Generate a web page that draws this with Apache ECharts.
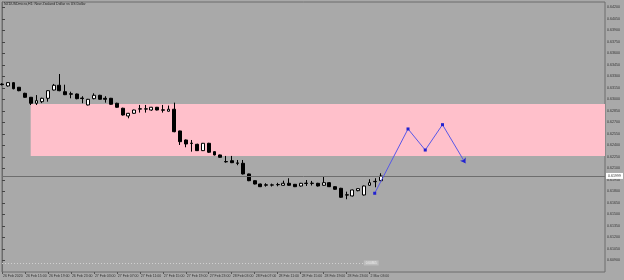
<!DOCTYPE html>
<html>
<head>
<meta charset="utf-8">
<script src="https://cdn.jsdelivr.net/npm/echarts@6/dist/echarts.min.js"></script>
<style>html,body{margin:0;padding:0;background:#a9a9a9;}#c{width:624px;height:280px;}</style>
</head>
<body>
<div id="c"></div>
<script>
// ---- data ----
const title = 'NZDUSDmicro,H1: New Zealand Dollar vs US Dollar';
const tickLabels = ['26 Feb 2020','26 Feb 15:00','26 Feb 19:00','26 Feb 23:00','27 Feb 03:00','27 Feb 07:00','27 Feb 11:00','27 Feb 15:00','27 Feb 19:00','27 Feb 23:00','28 Feb 03:00','28 Feb 07:00','28 Feb 11:00','28 Feb 15:00','28 Feb 19:00','28 Feb 23:00','2 Mar 03:00'];
const totalSlots = 106;
const yTicks = [0.64200,0.64050,0.63900,0.63750,0.63600,0.63450,0.63300,0.63150,0.63000,0.62850,0.62700,0.62550,0.62400,0.62250,0.62100,0.61950,0.61800,0.61650,0.61500,0.61350,0.61200,0.61050,0.60900];
const yMin = 0.60747, yMax = 0.64269;
// [open, close, low, high]
const opens  = [0.63198,0.63174,0.63217,0.63157,0.63078,0.63026,0.62948,0.62969,0.63013,0.63121,0.63183,0.63099,0.63072,0.63069,0.63016,0.62926,0.63008,0.63052,0.63013,0.63013,0.62948,0.62883,0.62782,0.62817,0.62876,0.62872,0.62860,0.62896,0.62862,0.62844,0.62870,0.62587,0.62469,0.62428,0.62413,0.62330,0.62426,0.62317,0.62274,0.62188,0.62199,0.62170,0.62165,0.62026,0.61938,0.61895,0.61884,0.61880,0.61886,0.61878,0.61904,0.61891,0.61869,0.61906,0.61902,0.61904,0.61878,0.61912,0.61860,0.61839,0.61754,0.61739,0.61808,0.61752,0.61878,0.61925,0.61938];
const closes = [0.63192,0.63217,0.63138,0.63112,0.63026,0.62948,0.62982,0.63013,0.63112,0.63183,0.63112,0.63060,0.63066,0.63008,0.63010,0.63000,0.63052,0.63000,0.63000,0.62935,0.62896,0.62795,0.62817,0.62860,0.62872,0.62876,0.62896,0.62860,0.62858,0.62870,0.62577,0.62447,0.62417,0.62424,0.62330,0.62426,0.62309,0.62274,0.62243,0.62184,0.62173,0.62165,0.62026,0.61938,0.61895,0.61860,0.61880,0.61884,0.61888,0.61904,0.61878,0.61860,0.61904,0.61902,0.61906,0.61869,0.61912,0.61860,0.61826,0.61722,0.61750,0.61817,0.61834,0.61869,0.61912,0.61929,0.61999];
const lows   = [0.63180,0.63165,0.63130,0.63105,0.63020,0.62926,0.62926,0.62950,0.62969,0.63115,0.63105,0.63055,0.63013,0.63000,0.62948,0.62920,0.63000,0.62995,0.62956,0.62930,0.62890,0.62788,0.62752,0.62810,0.62826,0.62826,0.62850,0.62855,0.62826,0.62840,0.62570,0.62404,0.62374,0.62317,0.62325,0.62325,0.62300,0.62268,0.62238,0.62173,0.62168,0.62140,0.62020,0.61932,0.61890,0.61855,0.61860,0.61862,0.61865,0.61872,0.61872,0.61855,0.61862,0.61869,0.61875,0.61862,0.61872,0.61855,0.61820,0.61715,0.61696,0.61733,0.61800,0.61745,0.61870,0.61852,0.61932];
const highs  = [0.63210,0.63225,0.63225,0.63160,0.63085,0.63030,0.63055,0.63020,0.63118,0.63200,0.63330,0.63190,0.63099,0.63075,0.63040,0.63005,0.63078,0.63058,0.63040,0.63018,0.62955,0.62890,0.62822,0.62865,0.62926,0.62926,0.62900,0.62900,0.62926,0.62918,0.62956,0.62590,0.62475,0.62469,0.62420,0.62430,0.62432,0.62320,0.62278,0.62261,0.62261,0.62208,0.62208,0.62030,0.61942,0.61900,0.61905,0.61900,0.61910,0.61938,0.61970,0.61895,0.61910,0.61947,0.61935,0.61910,0.61990,0.61918,0.61865,0.61845,0.61795,0.61822,0.61840,0.61875,0.61957,0.61970,0.62035];
const zoneFrom = 5, zoneTop = 0.62939, zoneBottom = 0.62261;
const pathX = [64.9, 70.7, 73.7, 76.7, 80.7];
const pathY = [0.61774, 0.62613, 0.62338, 0.62669, 0.62165];
const lastPrice = 0.61999;
const dotLevel = 0.60865, dotFrom = 0, dotTo = 63;

// ---- build ----
const categories = [];
for (let i = 0; i < totalSlots; i++) {
  categories.push(i % 4 === 0 && tickLabels[i / 4] !== undefined ? tickLabels[i / 4] : '');
}
const candles = opens.map((o, i) => [o, closes[i], lows[i], highs[i]]);
const pathData = pathX.map((x, i) => {
  const d = { value: [x, pathY[i]] };
  if (i === pathX.length - 1) { d.symbol = 'arrow'; d.symbolSize = 5; d.symbolRotate = -149; }
  return d;
});

const chart = echarts.init(document.getElementById('c'), null, { renderer: 'canvas' });
const fnt = 'Arial, "Liberation Sans", sans-serif';
chart.setOption({
  animation: false,
  backgroundColor: '#a9a9a9',
  title: { text: title, left: 4, top: 2, padding: 0, textStyle: { fontSize: 3.5, fontWeight: 'normal', color: '#222', fontFamily: fnt } },
  grid: { left: 2, right: 19, top: 2, bottom: 8, show: true, backgroundColor: '#a9a9a9', borderColor: '#6c6c6c', borderWidth: 1 },
  xAxis: [{
    type: 'category', data: categories, boundaryGap: false,
    axisLine: { show: false },
    axisTick: { show: true, length: 2, inside: false, lineStyle: { color: '#555' }, interval: (i) => i % 4 === 0 && i / 4 < tickLabels.length },
    axisLabel: { interval: 0, fontSize: 3.5, color: '#333', align: 'left', margin: 2, fontFamily: fnt, padding: [0, 0, 0, 1] },
    splitLine: { show: false }
  }, {
    type: 'value', min: 0, max: totalSlots - 1, show: false
  }],
  yAxis: {
    type: 'value', position: 'right', min: yMin, max: yMax, scale: true,
    axisLine: { show: true, lineStyle: { color: '#6c6c6c' } },
    axisTick: { show: true, length: 3, lineStyle: { color: '#444' }, customValues: yTicks },
    axisLabel: { fontSize: 3.6, color: '#333', margin: 2, fontFamily: fnt, customValues: yTicks, formatter: (v) => v.toFixed(5) },
    splitLine: { show: false }
  },
  series: [{
    type: 'candlestick', data: candles, barWidth: 3.4,
    itemStyle: { color: '#ffffff', color0: '#000000', borderColor: '#000000', borderColor0: '#000000', borderWidth: 1 },
    markArea: {
      silent: true,
      itemStyle: { color: '#ffc0cb', opacity: 1 },
      data: [[{ xAxis: zoneFrom, yAxis: zoneTop }, { xAxis: totalSlots - 1, yAxis: zoneBottom }]]
    },
    markLine: {
      silent: true, symbol: 'none', animation: false,
      data: [
        { yAxis: lastPrice, lineStyle: { color: '#6e6e6e', width: 1, type: 'solid' },
          label: { show: true, position: 'end', formatter: () => lastPrice.toFixed(5), fontSize: 3.6, color: '#333', backgroundColor: '#ffffff', padding: [1, 2], distance: 1, fontFamily: fnt } },
        [{ coord: [dotFrom, dotLevel], lineStyle: { color: '#d0d0d0', width: 1, type: [1, 2] },
           label: { show: true, position: 'end', formatter: () => dotLevel.toFixed(5), fontSize: 3, color: '#eee', backgroundColor: '#bdbdbd', padding: [1, 2], distance: 0, fontFamily: fnt } },
         { coord: [dotTo, dotLevel] }]
      ]
    }
  }, {
    type: 'line', xAxisIndex: 1, data: pathData, symbol: 'rect', symbolSize: 3,
    lineStyle: { color: '#5858e8', width: 1 }, itemStyle: { color: '#2222d0' }, z: 5
  }]
});
</script>
</body>
</html>
